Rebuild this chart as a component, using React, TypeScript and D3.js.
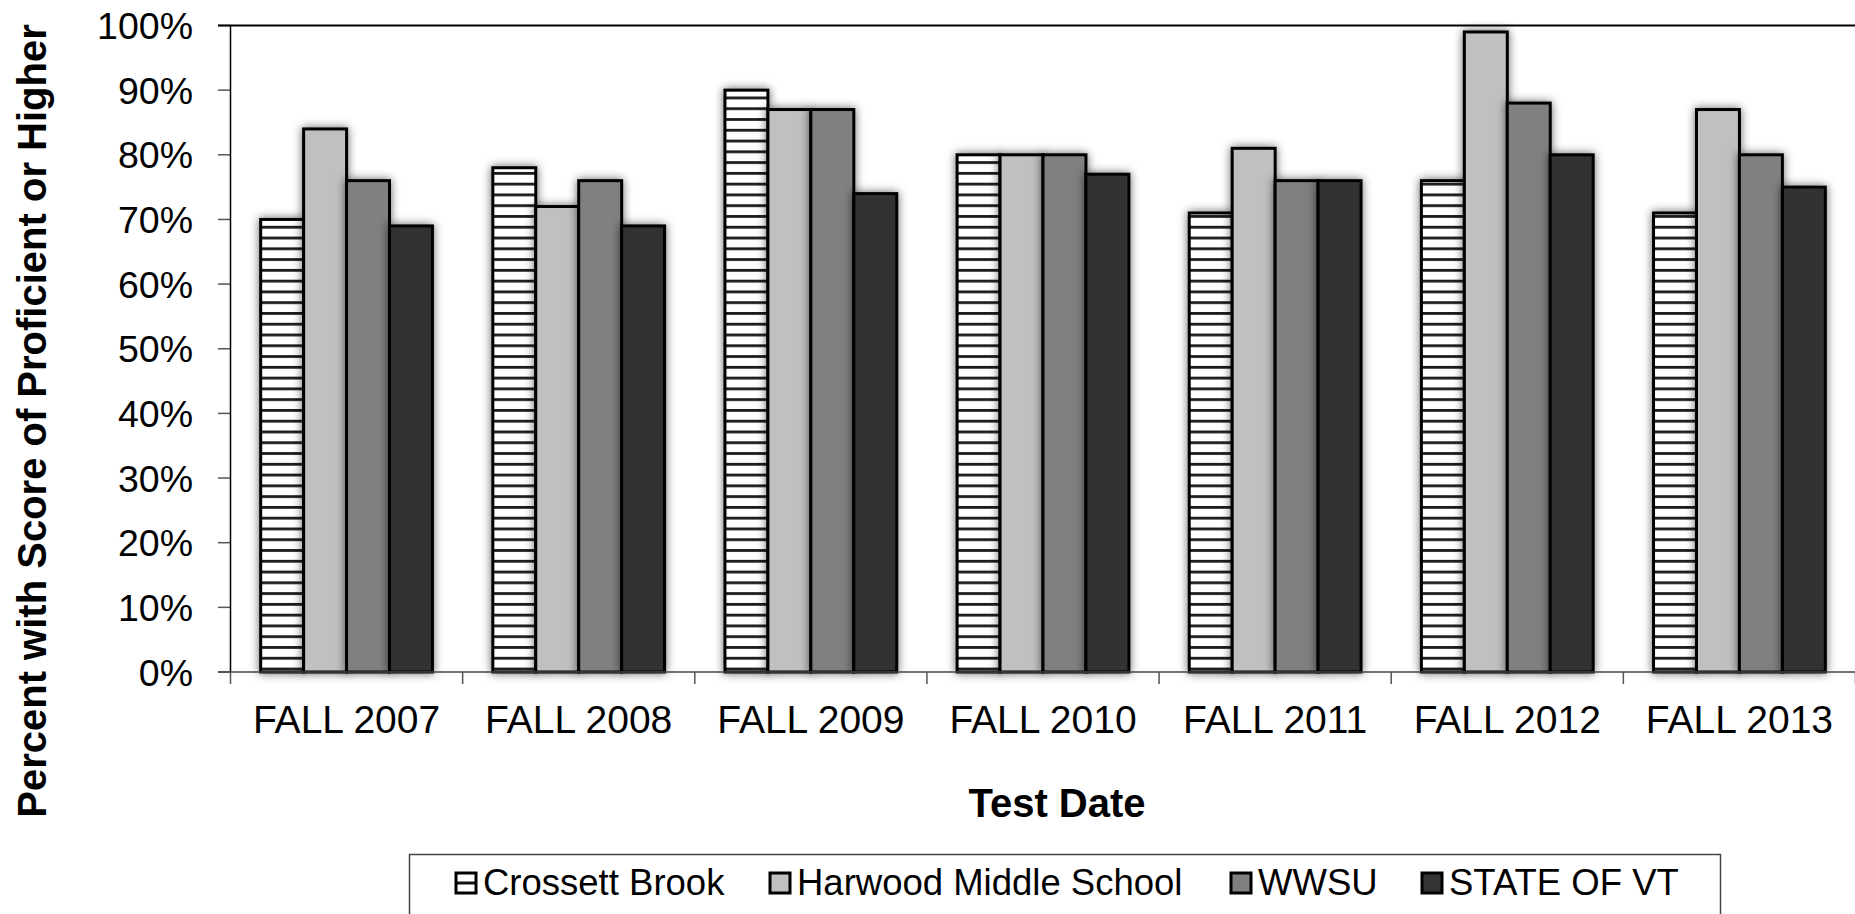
import { useEffect } from "react";
import * as d3 from "d3";

const categories = ["FALL 2007", "FALL 2008", "FALL 2009", "FALL 2010", "FALL 2011", "FALL 2012", "FALL 2013"];
const seriesNames = ["Crossett Brook", "Harwood Middle School", "WWSU", "STATE OF VT"];
const crossettBrook = [70, 78, 90, 80, 71, 76, 71];
const harwoodMiddle = [84, 72, 87, 80, 81, 99, 87];
const wwsu = [76, 76, 87, 80, 76, 88, 80];
const stateOfVT = [69, 69, 74, 77, 76, 80, 75];
const yTicks = [0, 10, 20, 30, 40, 50, 60, 70, 80, 90, 100];

const seriesValues = [crossettBrook, harwoodMiddle, wwsu, stateOfVT];
const fills = ["url(#hstripes)", "#c0c0c0", "#808080", "#333333"];
const legendX = [456, 770, 1231, 1422];

const W = 1855;
const H = 914;
const left = 230.5;
const right = 1855.5;
const top = 25.5;
const bottom = 672;
const font = "'Liberation Sans', Arial, sans-serif";

export default function App() {
  useEffect(() => {
    document.body.style.margin = "0";
  }, []);

  let x0 = d3.scaleBand().domain(categories).range([left, right]).paddingInner(0.26).paddingOuter(0.13);
  let x1 = d3.scaleBand().domain(seriesNames).range([0, x0.bandwidth()]);
  let y = d3.scaleLinear().domain([0, 100]).range([bottom, top]);

  let stripeStep = (y(0) - y(10)) / 6;
  let boundaries = d3.range(categories.length + 1).map((i) => left + i * x0.step());

  return (
    <svg width={W} height={H} style={{ display: "block", background: "#fff" }}>
      <defs>
        <pattern id="hstripes" patternUnits="userSpaceOnUse" x={0} y={bottom - 3 - 1.4} width={20} height={stripeStep}>
          <rect width={20} height={stripeStep} fill="#fff" />
          <rect width={20} height={2.8} fill="#1a1a1a" />
        </pattern>
        <pattern id="legstripe" patternUnits="objectBoundingBox" width={1} height={1}>
          <rect width={20} height={20} fill="#fff" />
          <rect y={8.5} width={20} height={3} fill="#111" />
        </pattern>
        <filter id="shadow" x="-30%" y="-10%" width="160%" height="120%">
          <feDropShadow dx={0} dy={0} stdDeviation={5} floodColor="#000" floodOpacity={0.6} />
        </filter>
      </defs>

      {/* y axis title */}
      <text
        transform={`translate(46,421) rotate(-90)`}
        textAnchor="middle"
        fontFamily={font}
        fontWeight="bold"
        fontSize={40}
      >
        Percent with Score of Proficient or Higher
      </text>

      {/* y ticks */}
      {yTicks.map((t) => (
        <g key={t}>
          <line x1={218} x2={left} y1={y(t)} y2={y(t)} stroke="#555" strokeWidth={1.5} />
          <text x={193} y={y(t)} dy="0.36em" textAnchor="end" fontFamily={font} fontSize={37.5}>
            {t}%
          </text>
        </g>
      ))}

      {/* bars */}
      {seriesNames.map((s, si) => (
        <g key={s} filter="url(#shadow)">
          {categories.map((c, ci) => {
            let v = seriesValues[si][ci];
            return (
              <rect
                key={c}
                x={x0(c)! + x1(s)!}
                y={y(v)}
                width={x1.bandwidth()}
                height={y(0) - y(v)}
                fill={fills[si]}
                stroke="#000"
                strokeWidth={3}
              />
            );
          })}
        </g>
      ))}

      {/* plot frame */}
      <line x1={218} x2={W} y1={top} y2={top} stroke="#000" strokeWidth={2} />
      <line x1={left} x2={left} y1={top} y2={bottom} stroke="#000" strokeWidth={1.5} />
      <line x1={218} x2={W} y1={bottom} y2={bottom} stroke="#444" strokeWidth={1.5} />

      {/* x ticks */}
      {boundaries.map((b, i) => (
        <line key={i} x1={b} x2={b} y1={bottom} y2={bottom + 12} stroke="#555" strokeWidth={1.5} />
      ))}
      {categories.map((c) => (
        <text key={c} x={x0(c)! + x0.bandwidth() / 2} y={733} textAnchor="middle" fontFamily={font} fontSize={39}>
          {c}
        </text>
      ))}

      <text x={1057} y={817} textAnchor="middle" fontFamily={font} fontWeight="bold" fontSize={40}>
        Test Date
      </text>

      {/* legend */}
      <rect x={409.5} y={854.5} width={1311} height={120} fill="none" stroke="#444" strokeWidth={1.5} />
      {seriesNames.map((s, si) => (
        <g key={s}>
          <rect
            x={legendX[si]}
            y={873}
            width={20}
            height={20}
            fill={si === 0 ? "url(#legstripe)" : fills[si]}
            stroke="#000"
            strokeWidth={3}
          />
          <text x={legendX[si] + 27} y={895} fontFamily={font} fontSize={36.5}>
            {s}
          </text>
        </g>
      ))}
    </svg>
  );
}
